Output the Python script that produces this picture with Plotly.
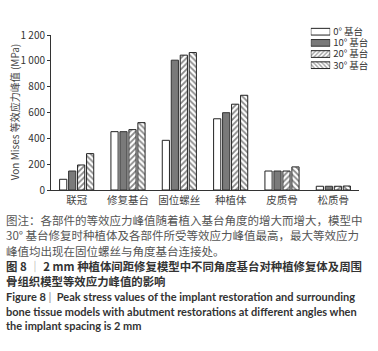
import plotly.graph_objects as go

categories = ["联冠", "修复基台", "固位螺丝", "种植体", "皮质骨", "松质骨"]
series_names = ["0° 基台", "10° 基台", "20° 基台", "30° 基台"]
v0 = [83, 452, 385, 552, 147, 29]
v10 = [147, 452, 1006, 599, 147, 29]
v20 = [194, 468, 1045, 665, 147, 29]
v30 = [282, 522, 1065, 734, 179, 31]
y_ticks = [0, 200, 400, 600, 800, 1000, 1200]
y_tick_labels = ["0", "200", "400", "600", "800", "1 000", "1 200"]
y_title = "Von Mises 等效应力峰值 (MPa)"

caption_note = [
    "图注：各部件的等效应力峰值随着植入基台角度的增大而增大，模型中",
    "30° 基台修复时种植体及各部件所受等效应力峰值最高，最大等效应力",
    "峰值均出现在固位螺丝与角度基台连接处。",
]
caption_cn = [
    "图 8 <span style='color:#aaa'>｜</span> 2 mm 种植体间距修复模型中不同角度基台对种植修复体及周围",
    "骨组织模型等效应力峰值的影响",
]
caption_en = [
    "Figure 8 <span style='color:#aaa'>|</span>  Peak stress values of the implant restoration and surrounding",
    "bone tissue models with abutment restorations at different angles when",
    "the implant spacing is 2 mm",
]

W, H = 378, 351
L, R, T, B = 51, 17, 10, 161
pw, ph = W - L - R, H - T - B

def px(x):
    return (x - L) / pw

def py(y):
    return (H - B - y) / ph

fills = ["white", "#7a7a7a", "white", "white"]
outlines = ["#222", "#333", "#222", "#222"]
shapes = ["", "", "/", "\\"]

fig = go.Figure()
for i, (name, vals) in enumerate(zip(series_names, [v0, v10, v20, v30])):
    fig.add_trace(go.Bar(
        x=categories, y=vals, name=name, showlegend=False,
        marker=dict(color=fills[i], line=dict(color=outlines[i], width=1),
                    pattern=dict(shape=shapes[i], fgcolor="#111", bgcolor=fills[i],
                                 size=4, solidity=0.45)),
    ))

# legend drawn as a tiny horizontal bar chart on its own axes
fig.add_trace(go.Bar(
    x=[1, 1, 1, 1], y=series_names, orientation="h", xaxis="x2", yaxis="y2",
    width=0.6, showlegend=False, hoverinfo="skip",
    marker=dict(color=fills, line=dict(color=outlines, width=1),
                pattern=dict(shape=shapes, fgcolor="#111", bgcolor=fills,
                             size=3, solidity=0.45)),
))

ann = []
ann.append(dict(text=y_title, x=px(14), y=py(108), xref="paper", yref="paper",
                xanchor="center", yanchor="middle",
                textangle=-90, showarrow=False, font=dict(size=10, color="#444",
                family="Noto Sans CJK SC")))
ys = [221.7, 237.5, 254.3, 270.3, 285.5, 302.3, 317.7, 332.7]
lines = ([(t, "#555", False, "Noto Sans CJK SC", 11.5) for t in caption_note] +
         [(t, "#333", True, "Noto Sans CJK SC", 11.4) for t in caption_cn] +
         [(t, "#333", True, "Lato, Noto Sans", 11) for t in caption_en])
for (t, c, b, fam, fs), yy in zip(lines, ys):
    txt = f"<b>{t}</b>" if b else t
    ann.append(dict(text=txt, x=px(4), y=py(yy), xref="paper", yref="paper",
                    xanchor="left", yanchor="middle", showarrow=False,
                    font=dict(size=fs, color=c, family=fam)))

fig.update_layout(
    width=W, height=H,
    margin=dict(l=L, r=R, t=T, b=B),
    paper_bgcolor="white", plot_bgcolor="rgba(0,0,0,0)",
    barmode="group", bargap=0.3, bargroupgap=0.2,
    font=dict(family="Noto Sans CJK SC", size=10, color="#333"),
    annotations=ann,
    showlegend=False,
    xaxis=dict(domain=[0, 1], showline=True, linecolor="#333", linewidth=1, ticks="",
               tickfont=dict(size=10.5, color="#444"), fixedrange=True),
    yaxis=dict(domain=[0, py(27)], range=[0, 1200], tickvals=y_ticks, ticktext=y_tick_labels,
               showline=True, linecolor="#333", linewidth=1, ticks="outside",
               ticklen=3, tickcolor="#333", showgrid=False, zeroline=False,
               tickfont=dict(size=10, color="#333")),
    xaxis2=dict(domain=[px(312.5), px(332)], range=[0, 1], visible=False,
                anchor="y2", fixedrange=True),
    yaxis2=dict(domain=[py(64.5), py(17.5)], anchor="x2", side="right",
                type="category", autorange="reversed", showline=False,
                tickmode="array", tickvals=series_names, ticktext=series_names,
                showgrid=False, zeroline=False, ticks="", ticklabelstandoff=2,
                tickfont=dict(size=9.5, color="#333"), fixedrange=True),
)

fig.write_html("out.html")
